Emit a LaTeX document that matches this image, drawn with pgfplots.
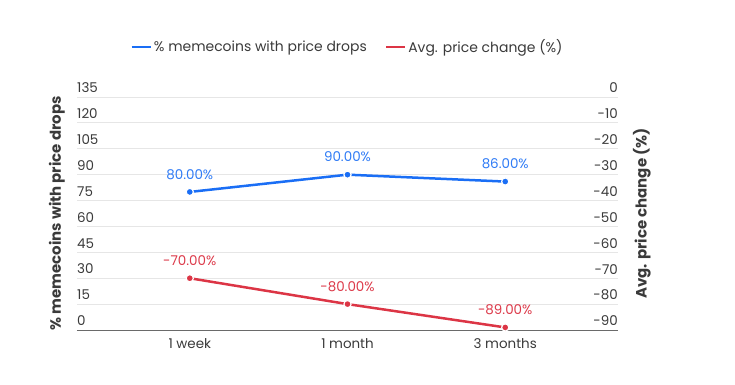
\documentclass[border=0pt]{standalone}
\usepackage{pgfplots}
\pgfplotsset{compat=1.18}
\usepackage{fontspec}
\setmainfont{Poppins}
\definecolor{cblue}{HTML}{1A6EF5}
\definecolor{cbluet}{HTML}{2F7BF5}
\definecolor{cred}{HTML}{DC3545}
\definecolor{credt}{HTML}{DC3A4A}
\definecolor{ctxt}{HTML}{3A3A3A}
\definecolor{cgrid}{HTML}{E6E6E6}
\definecolor{caxis}{HTML}{6A6A6A}
\begin{document}
\begin{tikzpicture}
\useasboundingbox (-77bp,-55bp) rectangle (658bp,330bp);
\pgfplotsset{
  base/.style={
    scale only axis, width=541bp, height=233bp,
    xmin=-0.715, xmax=2.715,
    xtick={0,1,2},
    /pgf/number format/assume math mode=true,
    major tick length=0pt,
    tick style={draw=none},
    font=\fontsize{13.5}{15}\selectfont,
    tick label style={text=ctxt},
    label style={text=ctxt, font=\fontsize{15}{17}\selectfont\bfseries},
    y axis line style={draw=none},
    clip=false,
  },
  sty/.style={line width=2.5bp, mark=*, mark size=3.6bp,
    mark options={draw=white, line width=1.2bp, fill=#1}, color=#1},
}
\begin{axis}[base,
  ymin=0, ymax=135, ytick={0,15,...,135},
  axis x line*=bottom, axis y line*=left,
  x axis line style={draw=caxis, line width=0.8bp, -},
  ymajorgrids, grid style={cgrid, line width=0.8bp},
  xticklabels={1 week,1 month,3 months},
  xticklabel style={yshift=-5bp},
  yticklabel style={anchor=south west, inner sep=0pt, yshift=4bp},
  ylabel={\% memecoins with price drops},
  ylabel style={at={(axis description cs:-0.037,0.5)}, anchor=center},
  legend style={at={(axis description cs:0.5,1)}, anchor=center, yshift=50bp,
    draw=none, fill=none, legend columns=2, text=ctxt,
    font=\fontsize{14}{16}\selectfont,
    /tikz/every even column/.append style={column sep=16bp}},
  legend image code/.code={\draw[line width=2.5bp] (0bp,0bp) -- (19bp,0bp);},
  nodes near coords, point meta=explicit symbolic,
  every node near coord/.append style={anchor=south, inner sep=0pt, yshift=12bp,
    font=\fontsize{13.5}{15}\selectfont, text=cbluet},
]
\addplot[sty=cblue] coordinates {(0,80)[80.00\%] (1,90)[90.00\%] (2,86)[86.00\%]};
\addlegendentry{\% memecoins with price drops}
\addlegendimage{color=cred}
\addlegendentry{Avg. price change (\%)}
\end{axis}
\begin{axis}[base,
  ymin=-90, ymax=0, ytick={-90,-80,...,0},
  axis x line=none, axis y line*=right,
  xticklabels={},
  yticklabel style={anchor=south east, inner sep=0pt, yshift=4bp},
  ylabel={Avg. price change (\%)},
  ylabel style={at={(axis description cs:1.044,0.5)}, anchor=center},
  nodes near coords, point meta=explicit symbolic,
  every node near coord/.append style={anchor=south, inner sep=0pt, yshift=12bp,
    font=\fontsize{13.5}{15}\selectfont, text=credt},
]
\addplot[sty=cred] coordinates {(0,-70)[-70.00\%] (1,-80)[-80.00\%] (2,-89)[-89.00\%]};
\end{axis}
\end{tikzpicture}
\end{document}
